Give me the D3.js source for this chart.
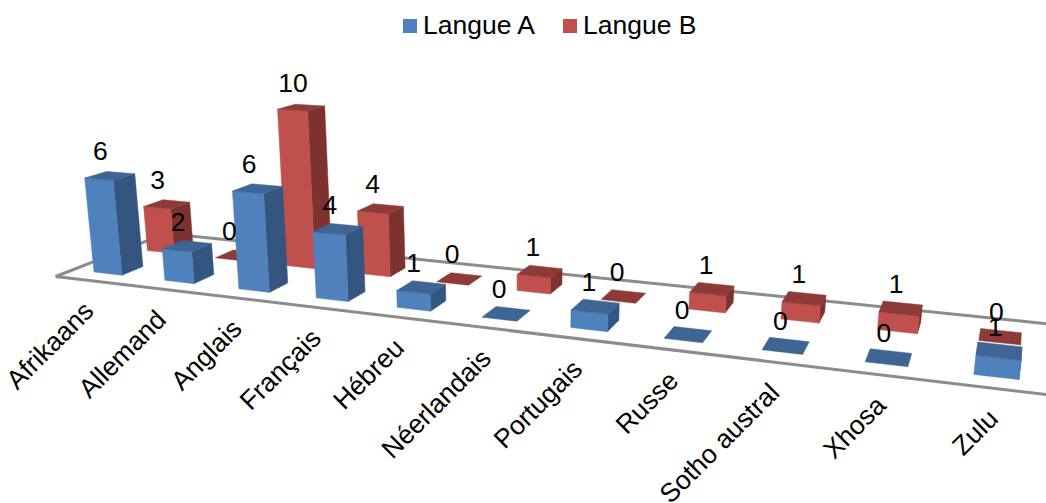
<!DOCTYPE html>
<html>
<head>
<meta charset="utf-8">
<script src="https://cdn.jsdelivr.net/npm/d3@7/dist/d3.min.js"></script>
<style>
  html, body { margin: 0; padding: 0; background: #fff; }
  svg { display: block; }
  text { font-family: "Liberation Sans", Arial, sans-serif; fill: #000; }
</style>
</head>
<body>
<script>
const categories = ["Afrikaans", "Allemand", "Anglais", "Français", "Hébreu", "Néerlandais",
                    "Portugais", "Russe", "Sotho austral", "Xhosa", "Zulu"];
const seriesNames = ["Langue A", "Langue B"];
const langueA = [6, 2, 6, 4, 1, 0, 1, 0, 0, 0, 1];
const langueB = [3, 0, 10, 4, 0, 1, 0, 1, 1, 1, 0];

const width = 1046, height = 503;

// Perspective camera: three vanishing points and the image of the world origin.
const origin = [94, 272];
const vanishX = [-3188, -110];   // along the category axis
const vanishZ = [1045, -110];    // into the depth of the floor
const vanishY = [523, 4600];     // vertical direction

// World axes expressed as homogeneous weights towards each vanishing point.
const catScale = d3.scaleBand().domain(categories).range([-0.3, 10.7]).paddingInner(0.6).paddingOuter(0.3);
const catWeight = d3.scaleLinear().domain([0, 1]).range([0, -0.02114]);
const valueWeight = d3.scaleLinear().domain([0, 10]).range([0, -0.0354]);
const depthWeight = d3.scaleLinear().domain([0, 1]).range([0, 0.023]);

const seriesDepth = d3.scaleOrdinal(seriesNames, [0, 2.59]);
const floorDepth = [-0.78, 4.6];

function project(u, v, z) {
  const a = catWeight(u), b = valueWeight(v), c = depthWeight(z);
  const w = 1 + a + b + c;
  return [
    (origin[0] + a * vanishX[0] + b * vanishY[0] + c * vanishZ[0]) / w,
    (origin[1] + a * vanishX[1] + b * vanishY[1] + c * vanishZ[1]) / w
  ];
}

const palette = {
  "Langue A": { front: "#4f81bd", side: "#34557f", top: "#3e6594" },
  "Langue B": { front: "#c0504d", side: "#7d3230", top: "#8e3a38" }
};

const svg = d3.select("body").append("svg").attr("width", width).attr("height", height);
const line = d3.line();

// Floor outline
const floorLeft = catScale.range()[0], floorRight = catScale.range()[1];
svg.append("path")
  .attr("d", line([
    project(floorRight, 0, floorDepth[0]),
    project(floorLeft, 0, floorDepth[0]),
    project(floorLeft, 0, floorDepth[1]),
    project(floorRight, 0, floorDepth[1])
  ]))
  .attr("fill", "none")
  .attr("stroke", "#8c8c8c")
  .attr("stroke-width", 3)
  .attr("stroke-linejoin", "miter");

// Bars, far series first so the near one overlaps it
const rows = [
  { name: "Langue B", values: langueB },
  { name: "Langue A", values: langueA }
];
const barLayer = svg.append("g");
rows.forEach(row => {
  const z0 = seriesDepth(row.name), z1 = z0 + 1;
  const colors = palette[row.name];
  categories.forEach((cat, i) => {
    const u0 = catScale(cat), u1 = u0 + catScale.bandwidth();
    const v = row.values[i];
    const g = barLayer.append("g").attr("class", "bar");
    const face = (pts, fill) => g.append("path")
      .attr("d", line(pts) + "Z")
      .attr("fill", fill)
      .attr("stroke", fill)
      .attr("stroke-width", 0.5);
    if (v > 0) {
      face([project(u1, 0, z0), project(u1, 0, z1), project(u1, v, z1), project(u1, v, z0)], colors.side);
      face([project(u0, 0, z0), project(u1, 0, z0), project(u1, v, z0), project(u0, v, z0)], colors.front);
    }
    face([project(u0, v, z0), project(u1, v, z0), project(u1, v, z1), project(u0, v, z1)], colors.top);
  });
});

// Value labels above each bar; the sideways offset eases off towards the right
const labelLayer = svg.append("g").attr("font-size", 26.5).attr("text-anchor", "middle");
const labelShift = d3.scaleLinear().domain([200, 1000]).range([-9, -4]);
rows.forEach(row => {
  const z0 = seriesDepth(row.name);
  categories.forEach((cat, i) => {
    const v = row.values[i];
    const p = project(catScale(cat) + catScale.bandwidth() / 2, v, z0 + 0.5);
    labelLayer.append("text")
      .attr("x", p[0] + labelShift(p[0]))
      .attr("y", p[1] - 15.5)
      .text(v);
  });
});

// Rotated category labels along the front edge
const axisLayer = svg.append("g").attr("font-size", 26.5).attr("text-anchor", "end");
categories.forEach(cat => {
  const p = project(catScale(cat) + catScale.bandwidth() / 2, 0, floorDepth[0]);
  axisLayer.append("text")
    .attr("transform", `translate(${p[0] + 4.5},${p[1] + 32}) rotate(-45)`)
    .text(cat);
});

// Legend
const legendItems = [
  { name: "Langue A", x: 403 },
  { name: "Langue B", x: 563 }
];
const legend = svg.append("g");
legendItems.forEach(d => {
  legend.append("rect").attr("x", d.x).attr("y", 19).attr("width", 14).attr("height", 14)
    .attr("fill", palette[d.name].front);
  legend.append("text").attr("x", d.x + 20).attr("y", 33.5).attr("font-size", 26.5).text(d.name);
});
</script>
</body>
</html>
